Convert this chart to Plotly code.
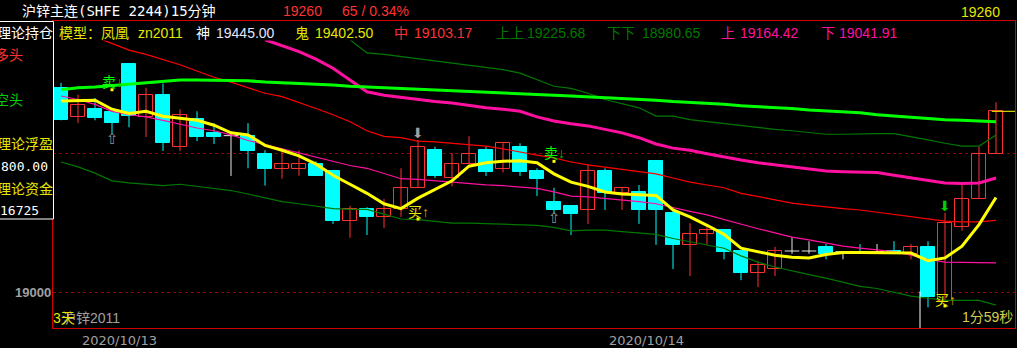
import plotly.graph_objects as go

W, H = 1017, 348

# ---------------- data ----------------
opens = [19293, 19252, 19263, 19259, 19328, 19252, 19283, 19209, 19249, 19229,
         19225, 19224, 19199, 19177, 19177, 19184, 19174, 19102, 19119, 19108,
         19119, 19150, 19204, 19164, 19184, 19204, 19177, 19209, 19174, 19129,
         19124, 19118, 19174, 19142, 19144, 19189, 19114, 19068, 19083, 19089,
         19059, 19027, 19033, 19059, 19059, 19065, 19058, 19058, 19058, 19059,
         19055, 19065, 18987, 19094, 19134, 19199]
highs = [19301, 19284, 19279, 19259, 19328, 19294, 19300, 19263, 19260, 19243,
         19229, 19243, 19204, 19204, 19204, 19188, 19174, 19124, 19122, 19134,
         19178, 19219, 19209, 19200, 19224, 19209, 19214, 19214, 19178, 19150,
         19124, 19184, 19178, 19150, 19154, 19189, 19122, 19099, 19096, 19089,
         19059, 19045, 19065, 19079, 19073, 19069, 19058, 19069, 19069, 19073,
         19069, 19073, 19114, 19158, 19209, 19273]
lows = [19247, 19243, 19247, 19227, 19237, 19223, 19203, 19203, 19217, 19213,
        19167, 19178, 19153, 19163, 19167, 19167, 19098, 19078, 19082, 19092,
        19108, 19150, 19164, 19152, 19184, 19167, 19172, 19167, 19138, 19112,
        19082, 19098, 19118, 19118, 19098, 19068, 19033, 19023, 19068, 19047,
        19017, 19007, 19023, 19055, 19055, 19047, 19047, 19055, 19055, 19055,
        19047, 18978, 18987, 19088, 19134, 19199]
closes = [19247, 19269, 19250, 19243, 19253, 19283, 19214, 19254, 19223, 19223,
          19225, 19203, 19177, 19184, 19184, 19167, 19102, 19119, 19108, 19119,
          19150, 19209, 19167, 19184, 19199, 19172, 19214, 19172, 19163, 19118,
          19112, 19174, 19142, 19150, 19118, 19118, 19068, 19083, 19089, 19058,
          19027, 19039, 19059, 19059, 19059, 19055, 19058, 19055, 19058, 19055,
          19065, 18993, 19099, 19134, 19199, 19260]

green_ma = [19291, 19294, 19295, 19297, 19299, 19301, 19302, 19305, 19305, 19305,
            19304, 19304, 19302, 19301, 19301, 19299, 19298, 19296, 19295, 19294,
            19293, 19292, 19291, 19290, 19289, 19288, 19287, 19286, 19285, 19283,
            19282, 19281, 19280, 19278, 19277, 19276, 19274, 19273, 19271, 19270,
            19268, 19267, 19266, 19264, 19262, 19261, 19260, 19258, 19255, 19253,
            19251, 19250, 19248, 19247, 19246, 19245]
mid_red = [None, None, 19367, 19357, 19348, 19342, 19335, 19327, 19318, 19309,
           19302, 19294, 19286, 19281, 19273, 19264, 19255, 19245, 19232, 19224,
           19222, 19217, 19216, 19214, 19211, 19210, 19206, 19201, 19197, 19193,
           19187, 19183, 19180, 19177, 19174, 19170, 19164, 19158, 19154, 19150,
           19142, 19137, 19132, 19128, 19125, 19122, 19120, 19118, 19115, 19112,
           19109, 19106, 19102, 19101, 19101, 19103]
upper_mag = [None] * 12 + [
             19363, 19354, 19346, 19335, 19322, 19305, 19288, 19283,
             19280, 19276, 19274, 19272, 19268, 19265, 19263, 19260, 19252, 19246,
             19242, 19239, 19234, 19229, 19222, 19213, 19207, 19204, 19199, 19194,
             19190, 19186, 19183, 19179, 19176, 19174, 19173, 19173, 19172, 19168,
             19164, 19160, 19157, 19156, 19157, 19164]
lower_mag = [19282, 19277, 19270, 19260, 19255, 19252, 19247, 19241, 19236, 19232,
             19226, 19218, 19212, 19206, 19199, 19193, 19187, 19182, 19178, 19171,
             19163, 19162, 19160, 19158, 19155, 19154, 19153, 19151, 19149, 19144,
             19138, 19137, 19135, 19132, 19130, 19127, 19121, 19116, 19111, 19104,
             19098, 19091, 19085, 19079, 19075, 19070, 19066, 19063, 19061, 19058,
             19053, 19047, 19043, 19043, 19042, 19042]
upup_green = [None] * 17 + [
              19363, 19344, 19342,
              19339, 19336, 19333, 19329, 19327, 19324, 19320, 19315, 19305, 19296,
              19293, 19286, 19277, 19271, 19265, 19253, 19253, 19248, 19245, 19242,
              19239, 19236, 19234, 19232, 19230, 19227, 19227, 19228, 19228, 19228,
              19224, 19219, 19214, 19210, 19210, 19226]
dndn_green = [19187, 19180, 19171, 19160, 19157, 19155, 19153, 19155, 19152, 19149,
              19146, 19141, 19135, 19130, 19127, 19124, 19120, 19119, 19119, 19112,
              19105, 19104, 19101, 19099, 19099, 19098, 19098, 19097, 19096, 19093,
              19088, 19089, 19089, 19087, 19085, 19083, 19077, 19072, 19068, 19063,
              19052, 19043, 19036, 19030, 19025, 19020, 19014, 19008, 19005, 18999,
              18994, 18991, 18988, 18988, 18988, 18981]
yellow_ma = [19275, 19276, 19276, 19263, 19257, 19260, 19253, 19250, 19247, 19240,
             19229, 19226, 19211, 19204, 19196, 19184, 19168, 19155, 19142, 19127,
             19120, 19135, 19148, 19160, 19181, 19186, 19188, 19189, 19186, 19170,
             19158, 19152, 19144, 19141, 19140, 19139, 19118, 19108, 19096, 19083,
             19063, 19058, 19053, 19050, 19049, 19054, 19057, 19057, 19057, 19056,
             19056, 19045, 19049, 19066, 19097, 19136]

sell_idx = [3, 29]
sell_text_price = [19302, 19200]
sell_dot_price = [19291, 19188]
buy_idx = [21, 52]
buy_text_price = [19115, 18989]
buy_dot_price = [19105, 18980]
hollow_up_idx = [3, 29]
hollow_up_price = [19220, 19106]
gray_down_idx = [21]
gray_down_price = [19229]
green_down_idx = [52]
green_down_price = [19124]

last_price = 19260
grid_prices = [19000, 19200]
date_labels = ["2020/10/13", "2020/10/14"]

# ---------------- styling ----------------
RED = "#ff3232"
CYAN = "#00ffff"
WHITE = "#e8e8e8"
YEL = "#ffff00"
TXT_YEL = "#e6e600"
DKGREEN = "#007800"
MAG = "#ff10a0"
BORDER = "#d20000"
GRAY = "#a0a0a0"
F_MIX = "Liberation Sans, Noto Sans CJK SC"
F_MONO = "DejaVu Sans Mono, Noto Sans CJK SC"

n = len(opens)
idx = list(range(n))
X_RANGE = [(53 - 61) / 17, (1015 - 61) / 17]
Y_RANGE = [19000 - 36 / 0.695, 19000 + 271 / 0.695]
BODY_W = 0.86

fig = go.Figure()


def wick_trace(sel, color):
    xs, ys = [], []
    for i in sel:
        xs += [i, i, None]
        ys += [highs[i], lows[i], None]
    return go.Scatter(x=xs, y=ys, mode="lines", line=dict(color=color, width=1),
                      hoverinfo="skip", showlegend=False)


up = [i for i in idx if closes[i] > opens[i]]
dn = [i for i in idx if closes[i] < opens[i]]
eq = [i for i in idx if closes[i] == opens[i]]

fig.add_trace(wick_trace(up, RED))
fig.add_trace(wick_trace(dn, CYAN))
fig.add_trace(wick_trace(eq, WHITE))

fig.add_trace(go.Bar(x=dn, y=[opens[i] - closes[i] for i in dn], base=[closes[i] for i in dn],
                     width=BODY_W, marker=dict(color=CYAN, line=dict(color=CYAN, width=1)),
                     showlegend=False, hoverinfo="skip"))
fig.add_trace(go.Bar(x=up, y=[closes[i] - opens[i] for i in up], base=[opens[i] for i in up],
                     width=BODY_W, marker=dict(color="#000000", line=dict(color=RED, width=1)),
                     showlegend=False, hoverinfo="skip"))
dx, dy = [], []
for i in eq:
    dx += [i - BODY_W / 2, i + BODY_W / 2, None]
    dy += [opens[i], opens[i], None]
fig.add_trace(go.Scatter(x=dx, y=dy, mode="lines", line=dict(color=WHITE, width=1),
                         showlegend=False, hoverinfo="skip"))


def line(vals, color, width):
    fig.add_trace(go.Scatter(x=idx, y=vals, mode="lines", line=dict(color=color, width=width),
                             showlegend=False, hoverinfo="skip", connectgaps=False))


line(dndn_green, DKGREEN, 1.2)
line(upup_green, DKGREEN, 1.2)
line(mid_red, "#ff0000", 1.2)
line(lower_mag, MAG, 1.2)
line(upper_mag, MAG, 3)
line(green_ma, "#00ff00", 3)
line(yellow_ma, YEL, 3)

fig.add_trace(go.Scatter(x=sell_idx + buy_idx, y=sell_dot_price + buy_dot_price, mode="markers",
                         marker=dict(symbol="square", size=3, color=YEL, line=dict(width=0)),
                         showlegend=False, hoverinfo="skip"))

for i, p in zip(sell_idx, sell_text_price):
    fig.add_annotation(x=i, y=p, xref="x", yref="y", showarrow=False,
                       text="卖<span style='color:#00c000'>↓</span>",
                       font=dict(color="#00ff00", size=14, family=F_MIX))
for i, p in zip(buy_idx, buy_text_price):
    fig.add_annotation(x=i, y=p, xref="x", yref="y", showarrow=False,
                       text="买<span style='color:#e0a000'>↑</span>",
                       font=dict(color=TXT_YEL, size=14, family=F_MIX))
for i, p in zip(hollow_up_idx, hollow_up_price):
    fig.add_annotation(x=i, y=p, xref="x", yref="y", showarrow=False, text="⇧",
                       font=dict(color="#909090", size=15, family="DejaVu Sans"))
for i, p in zip(gray_down_idx, gray_down_price):
    fig.add_annotation(x=i, y=p, xref="x", yref="y", showarrow=False, text="⬇",
                       font=dict(color="#a0a0a0", size=14, family="DejaVu Sans"))
for i, p in zip(green_down_idx, green_down_price):
    fig.add_annotation(x=i, y=p, xref="x", yref="y", showarrow=False, text="⬇",
                       font=dict(color="#00d000", size=14, family="DejaVu Sans"))

fig.add_shape(type="line", xref="x", yref="y", x0=n - 1 - 0.25, x1=X_RANGE[1],
              y0=last_price, y1=last_price, line=dict(color=YEL, width=1))
fig.add_shape(type="line", xref="x", yref="y", x0=n - 5.47, x1=n - 5.47,
              y0=19001, y1=Y_RANGE[0], line=dict(color="#ffffff", width=1))

fig.add_shape(type="rect", xref="paper", yref="paper", x0=54 / W, x1=1014 / W,
              y0=1 - 40.5 / H, y1=1 - 22 / H, fillcolor="#000000", line=dict(width=0),
              layer="above")
fig.add_shape(type="rect", xref="paper", yref="paper", x0=-2 / W, x1=53.5 / W,
              y0=1 - 219 / H, y1=1 - 21.5 / H, fillcolor="#000000",
              line=dict(color="#ffffff", width=1), layer="above")


def txt(s, x, y, color, size=14, xanchor="left", family=F_MIX):
    fig.add_annotation(text=s, x=x / W, y=1 - y / H, xref="paper", yref="paper",
                       xanchor=xanchor, yanchor="middle", showarrow=False,
                       font=dict(color=color, size=size, family=family),
                       borderpad=0, borderwidth=0)


txt("沪锌主连(SHFE 2244)15分钟", 22, 11, "#ffffff", 14, family=F_MONO)
txt(f"{closes[-1]}", 283, 11, RED, 14)
txt("65 / 0.34%", 342, 11, RED, 14)
txt(f"{last_price}", 961, 12, TXT_YEL, 14)

row = [("模型：凤凰", 59, TXT_YEL), ("zn2011", 138, TXT_YEL),
       ("神", 196, "#ffffff"), ("19445.00", 216, "#e6e6ff"),
       ("鬼", 295, TXT_YEL), ("19402.50", 315, TXT_YEL),
       ("中", 394, RED), ("19103.17", 414, RED),
       ("上上", 496, DKGREEN), ("19225.68", 527, DKGREEN),
       ("下下", 607, DKGREEN), ("18980.65", 642, DKGREEN),
       ("上", 721, MAG), ("19164.42", 740, MAG),
       ("下", 821, MAG), ("19041.91", 839, MAG)]
for s, x, c in row:
    txt(s, x, 33, c, 14)

txt("理论持仓", 53, 33, "#ffffff", 14, xanchor="right")
txt("多头", 23, 55, "#ff3232", 14, xanchor="right")
txt("空头", 23, 100, "#00d000", 14, xanchor="right")
txt("理论浮盈", 53, 144, TXT_YEL, 14, xanchor="right")
txt("800.00", 1, 166, "#ffffff", 13, family=F_MONO)
txt("理论资金", 53, 189, TXT_YEL, 14, xanchor="right")
txt("16725", 0, 210, "#ffffff", 13, family=F_MONO)

txt("<b>19000</b>", 51, 292, GRAY, 13, xanchor="right")

txt(date_labels[0], 82, 340, GRAY, 13, family="DejaVu Sans")
txt(date_labels[1], 609, 340, GRAY, 13, family="DejaVu Sans")

txt("沪锌2011", 62, 318, "#a0a0a0", 14)
txt("3天", 53, 318, TXT_YEL, 14)
txt("1分59秒", 1013, 317, "#d0d050", 14, xanchor="right")

fig.update_layout(
    width=W, height=H, margin=dict(l=0, r=0, t=0, b=0),
    paper_bgcolor="#000000", plot_bgcolor="#000000",
    barmode="overlay", bargap=0, showlegend=False,
    xaxis=dict(domain=[53 / W, 1015 / W], range=X_RANGE, showgrid=False, zeroline=False,
               showticklabels=False, ticks="", showline=True, linecolor=BORDER,
               linewidth=1, mirror=True, fixedrange=True),
    yaxis=dict(domain=[1 - 328 / H, 1 - 21 / H], range=Y_RANGE, showgrid=True,
               tickvals=grid_prices, gridcolor="#9a0000", griddash="3px,3px", gridwidth=1,
               zeroline=False, showticklabels=False, ticks="", showline=True,
               linecolor=BORDER, linewidth=1, mirror=True, fixedrange=True),
)

fig.write_html("out.html")
